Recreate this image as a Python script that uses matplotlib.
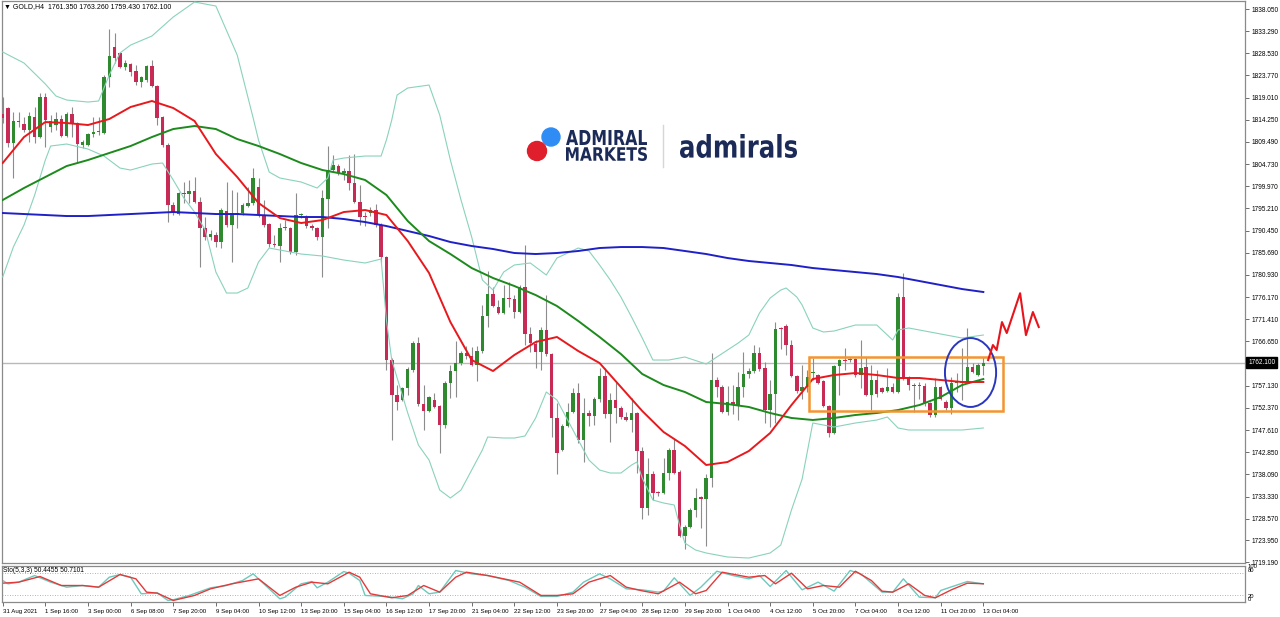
import numpy as np
import matplotlib
matplotlib.use('Agg')
import matplotlib.pyplot as plt
import matplotlib.transforms as mtransforms
from matplotlib.patches import Rectangle, Ellipse, PathPatch
from matplotlib.lines import Line2D
from matplotlib.textpath import TextPath
from matplotlib.font_manager import FontProperties

W, H = 1280, 617

# GOLD H4 candles, 31 Aug 2021 .. 13 Oct 2021 04:00
opens = [1815.49, 1816.78, 1809.26, 1813.9, 1813.35, 1812.06, 1814.85, 1810.55, 1819.14, 1812.7,
         1813.1, 1814.42, 1810.77, 1815.49, 1813.56, 1808.8, 1808.8, 1811.2, 1811.6, 1811.4,
         1823.44, 1829.9, 1828.6, 1825.6, 1826.2, 1824.7, 1822.37, 1822.8, 1825.8, 1821.5,
         1814.85, 1808.83, 1795.95, 1794.0, 1798.5, 1798.3, 1798.95, 1796.6, 1791.0, 1789.07,
         1789.5, 1788.0, 1794.66, 1791.65, 1794.2, 1794.2, 1795.7, 1796.4, 1799.8, 1793.8,
         1791.9, 1787.6, 1787.2, 1791.0, 1791.0, 1785.85, 1793.8, 1793.1, 1791.4, 1791.0,
         1789.07, 1797.2, 1803.46, 1804.3, 1802.8, 1803.2, 1800.67, 1796.6, 1793.6, 1794.2,
         1794.87, 1791.65, 1784.8, 1762.65, 1755.13, 1754.06, 1756.6, 1760.5, 1766.3, 1753.2,
         1751.7, 1754.06, 1752.77, 1748.7, 1757.7, 1760.3, 1762.0, 1764.15, 1763.5, 1761.6,
         1764.6, 1772.1, 1776.8, 1774.1, 1772.75, 1775.97, 1775.8, 1772.96, 1778.33, 1768.2,
         1766.1, 1764.4, 1769.1, 1763.94, 1750.2, 1743.3, 1748.5, 1751.5, 1755.56, 1745.5,
         1751.27, 1750.6, 1754.27, 1759.2, 1751.05, 1754.06, 1752.34, 1750.4, 1749.76, 1751.27,
         1743.1, 1730.9, 1738.2, 1734.1, 1734.1, 1738.4, 1743.3, 1738.6, 1724.85, 1726.8,
         1730.4, 1733.0, 1732.9, 1737.3, 1758.36, 1756.85, 1751.5, 1753.6, 1753.0, 1756.85,
         1759.65, 1760.3, 1764.15, 1760.9, 1751.9, 1755.35, 1769.5, 1769.95, 1765.9, 1759.2,
         1756.0, 1756.85, 1759.8, 1759.4, 1758.1, 1752.77, 1746.97, 1761.35, 1762.65, 1762.6,
         1762.9, 1759.4, 1761.15, 1755.13, 1758.36, 1756.6, 1756.0, 1756.85, 1755.8, 1776.2,
         1758.8, 1757.3, 1757.1, 1757.1, 1753.4, 1750.8, 1756.85, 1753.6, 1752.34, 1757.7,
         1757.8, 1757.9, 1761.15, 1759.4, 1761.35]
highs = [1819.14, 1817.0, 1815.9, 1815.9, 1814.85, 1815.9, 1817.0, 1820.0, 1820.0, 1815.3,
         1815.9, 1815.3, 1815.9, 1817.0, 1813.8, 1809.9, 1811.4, 1814.85, 1814.85, 1823.87,
         1833.75, 1832.9, 1828.8, 1827.1, 1826.45, 1826.0, 1823.65, 1826.0, 1827.1, 1821.7,
         1815.06, 1809.26, 1796.6, 1798.7, 1800.9, 1801.3, 1801.96, 1797.7, 1793.4, 1790.6,
         1790.1, 1795.3, 1800.9, 1799.2, 1798.7, 1796.4, 1799.8, 1803.9, 1801.75, 1797.0,
         1792.1, 1789.5, 1792.1, 1792.7, 1791.2, 1798.5, 1794.2, 1793.8, 1791.9, 1791.2,
         1799.2, 1808.6, 1806.7, 1804.75, 1803.9, 1806.7, 1806.9, 1800.2, 1794.4, 1795.5,
         1796.2, 1792.1, 1785.0, 1763.1, 1757.3, 1756.85, 1761.15, 1766.7, 1767.6, 1757.3,
         1754.9, 1755.6, 1753.0, 1758.1, 1761.6, 1766.7, 1764.6, 1765.7, 1765.5, 1765.7,
         1774.5, 1781.8, 1778.3, 1775.5, 1778.8, 1779.4, 1776.6, 1778.8, 1787.35, 1769.7,
         1766.95, 1769.7, 1776.6, 1764.15, 1753.4, 1748.9, 1753.4, 1756.6, 1757.7, 1754.5,
         1751.9, 1754.7, 1760.9, 1760.9, 1755.56, 1757.9, 1752.77, 1751.5, 1754.5, 1751.5,
         1743.96, 1741.6, 1738.8, 1734.5, 1741.6, 1743.75, 1745.7, 1739.0, 1727.2, 1730.9,
         1735.2, 1733.4, 1738.2, 1764.15, 1759.0, 1757.3, 1757.1, 1757.3, 1760.1, 1764.4,
         1760.9, 1765.9, 1765.5, 1762.2, 1758.36, 1770.8, 1769.7, 1770.4, 1766.9, 1759.4,
         1761.6, 1760.5, 1763.1, 1759.65, 1758.36, 1753.0, 1761.6, 1762.9, 1765.2, 1763.3,
         1763.1, 1766.95, 1763.3, 1761.6, 1760.5, 1756.85, 1760.9, 1757.7, 1777.05, 1781.35,
         1759.2, 1757.7, 1757.9, 1757.7, 1753.6, 1758.8, 1757.1, 1754.06, 1759.0, 1759.85,
         1765.2, 1769.5, 1762.0, 1762.0, 1763.26]
lows = [1813.56, 1808.4, 1801.75, 1812.7, 1811.6, 1809.5, 1809.26, 1810.3, 1808.4, 1811.6,
        1812.06, 1810.55, 1810.55, 1810.55, 1805.2, 1808.2, 1808.6, 1810.55, 1811.0, 1811.3,
        1821.3, 1826.45, 1825.4, 1824.9, 1823.65, 1821.7, 1821.3, 1822.37, 1821.3, 1813.13,
        1808.4, 1792.3, 1793.8, 1793.8, 1796.4, 1796.4, 1796.4, 1782.6, 1788.4, 1788.4,
        1786.9, 1786.7, 1791.2, 1783.7, 1791.0, 1793.8, 1795.5, 1795.95, 1793.4, 1791.2,
        1786.9, 1786.9, 1783.7, 1790.6, 1785.4, 1785.2, 1793.1, 1791.0, 1790.6, 1788.4,
        1780.5, 1791.0, 1803.0, 1802.4, 1801.3, 1799.2, 1796.4, 1791.65, 1791.4, 1793.6,
        1791.2, 1783.5, 1760.5, 1745.5, 1751.9, 1753.85, 1755.13, 1760.1, 1752.77, 1747.6,
        1751.5, 1752.34, 1742.7, 1748.05, 1754.5, 1754.7, 1761.6, 1762.9, 1761.4, 1758.1,
        1764.15, 1769.7, 1774.0, 1772.5, 1772.5, 1774.1, 1771.7, 1772.75, 1765.9, 1764.4,
        1760.9, 1760.5, 1763.5, 1746.1, 1738.2, 1743.1, 1748.3, 1751.3, 1744.8, 1740.7,
        1748.5, 1748.7, 1753.6, 1750.2, 1745.05, 1749.1, 1749.98, 1749.55, 1747.2, 1738.4,
        1728.5, 1729.4, 1732.6, 1733.4, 1733.9, 1736.9, 1738.2, 1724.6, 1722.05, 1726.6,
        1728.9, 1726.6, 1722.7, 1735.4, 1754.7, 1751.27, 1750.8, 1751.05, 1749.8, 1754.7,
        1758.8, 1759.85, 1760.3, 1749.1, 1748.3, 1749.1, 1765.0, 1763.7, 1759.0, 1755.56,
        1754.27, 1755.8, 1758.36, 1757.5, 1752.56, 1746.1, 1746.75, 1755.13, 1760.5, 1762.2,
        1759.0, 1756.6, 1754.9, 1751.9, 1754.7, 1755.6, 1755.8, 1755.6, 1755.6, 1758.36,
        1756.2, 1751.5, 1754.3, 1752.8, 1750.4, 1750.4, 1754.06, 1751.9, 1751.05, 1755.8,
        1754.06, 1757.7, 1759.85, 1759.2, 1759.43]
closes = [1814.63, 1809.26, 1813.99, 1813.8, 1812.06, 1815.06, 1810.55, 1819.14, 1814.2, 1813.99,
          1814.4, 1810.77, 1815.49, 1813.56, 1809.05, 1809.5, 1811.2, 1811.6, 1811.7, 1823.44,
          1827.95, 1827.5, 1825.6, 1826.45, 1824.5, 1822.37, 1823.44, 1825.8, 1821.5, 1814.63,
          1808.83, 1795.95, 1794.4, 1798.5, 1798.3, 1798.95, 1796.6, 1791.0, 1789.07, 1789.7,
          1788.0, 1794.87, 1791.65, 1794.2, 1794.0, 1795.95, 1796.4, 1801.75, 1793.8, 1791.65,
          1787.57, 1787.3, 1791.0, 1791.1, 1785.85, 1793.8, 1793.9, 1791.4, 1791.0, 1789.07,
          1797.45, 1803.46, 1804.5, 1802.8, 1803.2, 1800.67, 1796.6, 1793.37, 1793.4, 1794.87,
          1791.65, 1784.8, 1762.65, 1755.13, 1753.6, 1756.6, 1760.7, 1766.3, 1753.2, 1751.7,
          1754.7, 1752.56, 1748.7, 1757.7, 1760.3, 1762.0, 1764.15, 1763.5, 1761.6, 1764.6,
          1772.1, 1776.8, 1774.3, 1772.75, 1775.97, 1775.8, 1772.96, 1778.33, 1768.2, 1766.3,
          1764.4, 1769.1, 1763.94, 1750.2, 1742.7, 1748.5, 1751.5, 1755.56, 1745.5, 1751.27,
          1750.6, 1754.27, 1759.2, 1751.05, 1754.06, 1752.34, 1750.4, 1749.76, 1751.27, 1743.1,
          1730.9, 1738.2, 1734.1, 1734.0, 1738.4, 1743.3, 1738.4, 1724.85, 1726.8, 1730.4,
          1733.0, 1732.9, 1737.3, 1758.36, 1756.85, 1751.5, 1753.6, 1753.0, 1756.85, 1759.65,
          1760.3, 1764.15, 1760.7, 1751.9, 1755.35, 1769.3, 1769.4, 1765.9, 1759.2, 1756.0,
          1756.85, 1759.0, 1759.9, 1757.7, 1752.77, 1746.97, 1761.35, 1762.65, 1762.5, 1762.9,
          1759.4, 1760.9, 1755.13, 1758.36, 1755.35, 1755.8, 1756.85, 1755.8, 1776.2, 1758.8,
          1757.3, 1757.1, 1757.2, 1753.4, 1750.8, 1756.85, 1754.27, 1752.34, 1757.7, 1757.8,
          1757.9, 1761.15, 1760.1, 1761.6, 1762.1]

# moving averages, read every 4th candle
ma_idx = list(range(0, 185, 4))
ma_red = [1804.97, 1810.55, 1813.77, 1813.56, 1813.13, 1814.42, 1817.0, 1818.29, 1816.78, 1813.99,
          1806.9, 1801.96, 1796.38, 1793.15, 1792.08, 1792.72, 1794.44, 1794.87, 1793.8, 1788.21,
          1781.34, 1770.82, 1762.65, 1760.29, 1763.73, 1766.52, 1767.6, 1764.58, 1762.0, 1756.85,
          1751.7, 1747.19, 1744.18, 1740.1, 1740.74, 1743.1, 1746.97, 1752.98, 1758.57, 1759.43,
          1759.86, 1759.43, 1758.79, 1758.79, 1758.36, 1757.93, 1757.93]
ma_green = [1797.02, 1799.6, 1801.96, 1804.32, 1805.61, 1807.12, 1808.62, 1810.55, 1812.27, 1812.92,
            1812.27, 1810.12, 1808.62, 1806.9, 1804.97, 1803.46, 1802.6, 1801.32, 1798.1, 1792.51,
            1788.21, 1785.42, 1782.41, 1780.27, 1778.55, 1776.61, 1774.25, 1771.03, 1767.59, 1763.94,
            1759.65, 1757.28, 1755.78, 1753.63, 1753.2, 1752.56, 1751.27, 1750.2, 1749.77, 1750.2,
            1750.84, 1751.27, 1751.91, 1752.98, 1754.7, 1757.28, 1758.57]
ma_blue = [1794.23, 1794.01, 1793.8, 1793.58, 1793.58, 1793.8, 1794.01, 1794.23, 1794.44, 1794.23,
           1794.01, 1794.01, 1793.8, 1793.58, 1793.37, 1793.37, 1792.94, 1792.29, 1791.43, 1790.36,
           1789.29, 1788.0, 1787.14, 1786.5, 1785.64, 1785.42, 1785.64, 1786.07, 1786.71, 1786.92,
           1786.92, 1786.71, 1786.07, 1785.42, 1784.56, 1783.92, 1783.49, 1783.06, 1782.41, 1781.98,
           1781.55, 1781.12, 1780.48, 1779.62, 1778.76, 1777.9, 1777.26]

# bollinger bands
bb_up_idx = [0, 4, 8, 10, 12, 16, 18, 20, 22, 24, 28, 32, 36, 40, 44, 47, 48, 50, 52, 56,
             59, 61, 62, 64, 68, 71, 72, 73, 74, 76, 80, 82, 84, 86, 88, 90, 92, 94, 96, 99,
             102, 104, 108, 110, 112, 114, 116, 118, 120, 122, 125, 128, 132, 136, 138, 140, 142, 144, 146, 147,
             149, 150, 152, 154, 156, 160, 164, 167, 168, 170, 172, 176, 180, 184]
bb_up = [1828.81, 1826.45, 1821.94, 1819.36, 1818.5, 1818.07, 1818.29, 1823.87, 1828.6, 1830.31,
         1832.25, 1836.33, 1839.55, 1838.69, 1828.17, 1814.63, 1809.91, 1803.03, 1801.75, 1800.89,
         1799.6, 1801.75, 1805.61, 1806.04, 1806.47, 1806.47, 1809.91, 1814.2, 1819.57, 1821.08,
         1821.72, 1815.28, 1805.61, 1797.02, 1789.07, 1779.84, 1777.69, 1781.55, 1783.06, 1783.49,
         1780.91, 1784.56, 1786.71, 1786.07, 1783.06, 1779.84, 1776.18, 1771.89, 1767.38, 1762.65,
         1762.65, 1763.3, 1761.79, 1764.8, 1766.3, 1768.02, 1772.75, 1775.97, 1777.69, 1778.12,
         1776.18, 1774.47, 1769.53, 1768.67, 1768.88, 1770.17, 1770.17, 1766.95, 1769.1, 1769.53,
         1769.1, 1768.24, 1767.38, 1768.02]
bb_low_idx = [0, 2, 4, 6, 8, 9, 12, 16, 19, 20, 22, 24, 28, 30, 32, 34, 36, 38, 40, 42,
              44, 46, 48, 50, 52, 56, 60, 64, 68, 71, 72, 73, 76, 78, 80, 82, 84, 86, 88, 90,
              91, 94, 96, 98, 100, 102, 104, 106, 107, 108, 110, 112, 114, 116, 118, 119, 120, 122, 124, 126,
              127, 128, 130, 132, 136, 140, 144, 146, 148, 150, 152, 154, 156, 160, 164, 166, 168, 170, 172, 176,
              180, 184]
bb_low = [1780.48, 1786.92, 1791.65, 1798.09, 1805.61, 1808.62, 1809.05, 1807.97, 1806.47, 1805.61,
          1803.89, 1803.46, 1804.75, 1804.97, 1801.32, 1797.45, 1794.44, 1790.58, 1781.55, 1777.04,
          1777.04, 1778.12, 1783.7, 1786.71, 1786.28, 1785.42, 1784.99, 1784.13, 1783.49, 1784.35,
          1771.24, 1762.65, 1751.27, 1744.39, 1741.17, 1734.73, 1733.01, 1734.73, 1739.02, 1743.32,
          1746.11, 1745.9, 1745.9, 1746.33, 1750.19, 1755.78, 1754.06, 1749.76, 1747.62, 1745.47,
          1741.17, 1739.02, 1738.38, 1738.38, 1740.1, 1740.74, 1737.31, 1732.58, 1731.94, 1731.51,
          1727.21, 1723.34, 1721.84, 1721.2, 1720.34, 1720.12, 1721.2, 1722.91, 1730.43, 1737.08,
          1749.12, 1748.69, 1748.26, 1749.12, 1749.76, 1750.41, 1748.05, 1747.62, 1747.62, 1747.62,
          1747.62, 1748.05]

# stochastic (5,3,3)
sto_k_idx = [0, 1, 3, 6, 9, 12, 15, 18, 20, 22, 24, 26, 29, 31, 32, 35, 39, 42, 45, 47,
             48, 52, 53, 56, 58, 59, 61, 64, 65, 67, 68, 72, 75, 77, 78, 80, 82, 85, 88, 91,
             95, 98, 101, 104, 107, 109, 112, 114, 117, 120, 123, 124, 126, 129, 131, 134, 137, 140, 142, 144,
             147, 150, 153, 156, 159, 161, 165, 167, 169, 172, 175, 176, 181, 184]
sto_k = [59.7, 50.5, 55.1, 73.5, 55.1, 41.2, 45.8, 41.2, 68.9, 76.3, 68.9, 22.8, 25.5, 4.3, 6.2,
         18.2, 39.4, 45.8, 59.7, 78.2, 64.3, 8.9, 13.5, 50.5, 56.9, 39.4, 55.1, 84.6, 80.0, 59.7,
         18.2, 15.4, 8.9, 22.8, 45.8, 22.8, 27.4, 87.4, 78.2, 73.5, 59.7, 41.2, 15.4, 15.4, 27.4,
         55.1, 78.2, 64.3, 36.6, 33.8, 27.4, 30.2, 67.1, 18.2, 41.2, 85.5, 73.5, 64.3, 73.5, 43.1,
         87.4, 33.8, 55.1, 30.2, 87.4, 78.2, 27.4, 27.4, 64.3, 13.5, 11.7, 32.0, 56.9, 50.4]
sto_d_idx = [0, 3, 7, 11, 15, 18, 22, 25, 27, 29, 32, 36, 39, 43, 48, 52, 55, 58, 61, 65,
             67, 69, 73, 76, 79, 82, 85, 87, 91, 97, 101, 104, 107, 110, 114, 117, 120, 123, 127, 130,
             132, 135, 140, 143, 145, 148, 151, 154, 157, 160, 163, 165, 167, 170, 173, 175, 178, 181, 184]
sto_d = [52.3, 55.1, 70.8, 45.8, 45.8, 41.2, 76.3, 64.3, 27.4, 24.6, 4.3, 18.2, 36.6, 50.5, 64.3,
         18.2, 41.2, 55.1, 50.5, 82.8, 68.9, 22.8, 11.7, 18.2, 45.8, 27.4, 68.9, 82.8, 73.5, 55.1,
         18.2, 18.2, 22.8, 55.1, 73.5, 41.2, 31.0, 22.8, 55.1, 22.8, 32.0, 82.8, 68.9, 73.5, 50.5,
         80.0, 36.6, 45.8, 41.2, 85.5, 59.7, 30.2, 27.4, 50.5, 18.2, 11.7, 33.8, 52.3, 50.7]

# hand drawn annotations
range_box_idx = [151.3, 187.7]
range_box_price = [1751.7, 1763.3]
circle_idx, circle_price = 181.6, 1759.97
forecast_idx = [184.9, 185.8, 186.5, 187.5, 188.4, 190.9, 192.0, 193.3, 194.4]
forecast_price = [1762.65, 1765.87, 1764.8, 1770.8, 1768.45, 1777.0, 1768.0, 1772.96, 1769.74]
last_price = 1762.1

x_labels = ['31 Aug 2021', '1 Sep 16:00', '3 Sep 00:00', '6 Sep 08:00', '7 Sep 20:00', '9 Sep 04:00',
            '10 Sep 12:00', '13 Sep 20:00', '15 Sep 04:00', '16 Sep 12:00', '17 Sep 20:00', '21 Sep 04:00',
            '22 Sep 12:00', '23 Sep 20:00', '27 Sep 04:00', '28 Sep 12:00', '29 Sep 20:00', '1 Oct 04:00',
            '4 Oct 12:00', '5 Oct 20:00', '7 Oct 04:00', '8 Oct 12:00', '11 Oct 20:00', '13 Oct 04:00']
price_labels = ['1838.050', '1833.290', '1828.530', '1823.770', '1819.010', '1814.250', '1809.490',
                '1804.730', '1799.970', '1795.210', '1790.450', '1785.690', '1780.930', '1776.170',
                '1771.410', '1766.650', '1757.130', '1752.370', '1747.610', '1742.850', '1738.090',
                '1733.330', '1728.570', '1723.950', '1719.190']

small_font = ['Liberation Sans', 'DejaVu Sans']

fig = plt.figure(figsize=(W / 100, H / 100), dpi=100, facecolor='white')
ax = fig.add_axes([2 / W, 1 - 563 / H, 1243 / W, 562 / H])
ax2 = fig.add_axes([2 / W, 1 - 602 / H, 1243 / W, 36 / H])

for a in (ax, ax2):
    a.set_xlim(-0.13, 233.1)
    for s in a.spines.values():
        s.set_color('#8a8a8a')
        s.set_linewidth(0.9)
ax.set_ylim(1719.05, 1839.77)
ax2.set_ylim(0, 100)

# candles
idx = np.arange(len(closes))
o = np.array(opens)
c = np.array(closes)
up = c >= o
ax.vlines(idx, lows, highs, color='#8c8c8c', lw=0.8, zorder=2)
body_lo = np.minimum(o, c)
body_h = np.maximum(np.abs(c - o), 0.22)
ax.bar(idx[up], body_h[up], bottom=body_lo[up], width=0.66, color='#2f8a2f', lw=0, zorder=3)
ax.bar(idx[~up], body_h[~up], bottom=body_lo[~up], width=0.66, color='#c62a55', lw=0, zorder=3)

ax.axhline(last_price, color='#b9b9b9', lw=1.0, zorder=1)

# indicators
ax.plot(bb_up_idx, bb_up, color='#8ad2bd', lw=0.8, zorder=4)
ax.plot(bb_low_idx, bb_low, color='#8ad2bd', lw=0.8, zorder=4)
ax.plot(ma_idx, ma_blue, color='#2020c8', lw=1.4, zorder=5)
ax.plot(ma_idx, ma_green, color='#1c8a1c', lw=1.4, zorder=5)
ax.plot(ma_idx, ma_red, color='#e8181c', lw=1.4, zorder=5)

# annotations
ax.add_patch(Rectangle((range_box_idx[0], range_box_price[0]),
                       range_box_idx[1] - range_box_idx[0], range_box_price[1] - range_box_price[0],
                       fill=False, ec='#f4952e', lw=1.8, zorder=6))
ax.add_patch(Ellipse((circle_idx, circle_price), 9.6, 14.8, fill=False, ec='#2a36c0', lw=1.4, zorder=6))
ax.plot(forecast_idx, forecast_price, color='#e8141c', lw=1.5, zorder=6)

# right price axis
ax.set_xticks([])
ax.yaxis.tick_right()
ax.set_yticks([float(t) for t in price_labels])
ax.set_yticklabels(price_labels)
ax.tick_params(axis='y', length=3, width=0.6, color='#555555', labelsize=4.7, pad=1.5)
for t in ax.get_yticklabels():
    t.set_family(small_font)
ax.annotate('1762.100', xy=(1, last_price), xycoords=('axes fraction', 'data'),
            xytext=(2.2, 0), textcoords='offset points', va='center', ha='left',
            fontsize=4.7, family=small_font, color='white',
            bbox=dict(boxstyle='square,pad=0.25', fc='black', ec='black'))

# stochastic panel
ax2.axhline(80, color='#9a9a9a', lw=0.6, ls=(0, (1, 2)))
ax2.axhline(20, color='#9a9a9a', lw=0.6, ls=(0, (1, 2)))
ax2.plot(sto_k_idx, sto_k, color='#6cc9bd', lw=1.0)
ax2.plot(sto_d_idx, sto_d, color='#e23a3a', lw=1.0)
ax2.set_yticks([])
ax2.set_xticks(range(0, 185, 8))
ax2.set_xticklabels(x_labels, ha='left', fontsize=4.4, family=small_font)
ax2.tick_params(axis='x', length=3, width=0.6, color='#555555', pad=2)
for lab, yy in (('100', 567), ('80', 570.5), ('20', 596), ('0', 599.5)):
    fig.text(1248 / W, 1 - yy / H, lab, fontsize=4.2, family=small_font, va='center')
fig.text(3 / W, 1 - 570 / H, 'Sto(5,3,3) 50.4455 50.7101', fontsize=4.8, family=small_font, va='center')

# header
fig.text(4 / W, 1 - 7 / H, '\u25bc GOLD,H4  1761.350 1763.260 1759.430 1762.100',
         fontsize=5.0, family=small_font, va='center')


# watermark logo
def fit_text(s, x0, y0, x1, y1, color, family):
    tp = TextPath((0, 0), s, size=20, prop=FontProperties(family=family, weight='bold'))
    ext = tp.get_extents()
    tr = (mtransforms.Affine2D().translate(-ext.x0, -ext.y0)
          .scale((x1 - x0) / ext.width / W, (y1 - y0) / ext.height / H)
          .translate(x0 / W, 1 - y1 / H))
    fig.add_artist(PathPatch(tp, transform=tr + fig.transFigure, fc=color, ec='none'))


navy = '#1c2a58'
fig.add_artist(Ellipse((551 / W, 1 - 137 / H), 18 / W, 18 / H, transform=fig.transFigure, color='#2e8cf4'))
fig.add_artist(Ellipse((537 / W, 1 - 151 / H), 19 / W, 19 / H, transform=fig.transFigure, color='#df1f2b'))
fit_text('ADMIRAL', 566, 130, 647, 145, navy, 'DejaVu Sans')
fit_text('MARKETS', 566, 147, 647, 161, navy, 'DejaVu Sans')
fig.add_artist(Line2D([663 / W, 663 / W], [1 - 125 / H, 1 - 167 / H], transform=fig.transFigure,
                      color='#d6d6d6', lw=1))
fit_text('admirals', 680, 134, 797, 158, navy, 'DejaVu Sans')

fig.savefig('out.png', dpi=100, facecolor='white')
